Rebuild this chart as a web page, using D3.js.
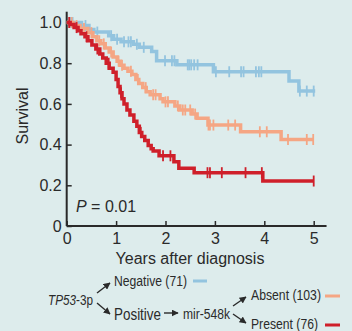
<!DOCTYPE html>
<html>
<head>
<meta charset="utf-8">
<script src="https://cdn.jsdelivr.net/npm/d3@7"></script>
<style>
  html, body { margin: 0; padding: 0; background: #ddecec; }
  svg { display: block; font-family: "Liberation Sans", Arial, sans-serif; }
</style>
</head>
<body>
<svg id="chart" width="352" height="331"></svg>
<script>
// Kaplan-Meier step data (years, survival)
const negTimes = [0, 0.30, 0.45, 0.55, 0.85, 0.95, 1.10, 1.35, 1.47, 1.72, 1.82, 2.23, 2.97, 4.50, 4.70, 5.03];
const negSurv  = [1.0, 0.985, 0.965, 0.953, 0.935, 0.918, 0.905, 0.893, 0.878, 0.857, 0.812, 0.792, 0.758, 0.712, 0.663, 0.663];
const negCens  = [0.08, 0.12, 0.38, 0.62, 0.9, 1.02, 1.16, 1.25, 1.3, 1.42, 1.56, 1.99, 2.13, 2.18, 2.45, 2.48, 2.52, 2.58, 2.65,
                  3.02, 3.29, 3.53, 3.58, 3.83, 3.89, 3.94, 4.72, 4.86, 5.0];

const absTimes = [0, 0.13, 0.27, 0.43, 0.53, 0.61, 0.69, 0.78, 0.86, 0.94, 1.02, 1.08, 1.16, 1.24, 1.32, 1.40, 1.46, 1.54, 1.61, 1.69,
                  1.89, 1.95, 2.19, 2.29, 2.54, 2.64, 2.86, 3.52, 4.34, 5.0];
const absSurv  = [1.0, 0.985, 0.97, 0.95, 0.93, 0.91, 0.895, 0.875, 0.855, 0.83, 0.81, 0.79, 0.775, 0.76, 0.745, 0.72, 0.70, 0.68, 0.66, 0.645,
                  0.625, 0.61, 0.59, 0.57, 0.55, 0.53, 0.496, 0.463, 0.425, 0.425];
const absCens  = [0.1, 0.2, 0.35, 0.5, 0.66, 0.75, 0.9, 1.05, 1.12, 1.3, 1.44, 1.6, 1.75, 1.8, 2.0, 2.05, 2.25, 2.35, 2.4, 2.5, 2.6,
                  2.87, 2.9, 2.97, 3.27, 3.41, 3.91, 4.05, 4.48, 4.86, 4.99];

const preTimes = [0, 0.07, 0.15, 0.23, 0.29, 0.37, 0.43, 0.51, 0.59, 0.67, 0.73, 0.80, 0.86, 0.94, 1.00, 1.04, 1.08, 1.12, 1.16, 1.22,
                  1.28, 1.36, 1.42, 1.47, 1.52, 1.58, 1.65, 1.71, 1.75, 1.87, 2.17, 2.27, 2.58, 3.97, 5.0];
const preSurv  = [1.0, 0.99, 0.975, 0.96, 0.945, 0.93, 0.91, 0.89, 0.87, 0.845, 0.825, 0.80, 0.775, 0.755, 0.72, 0.685, 0.655, 0.625, 0.60, 0.57,
                  0.545, 0.515, 0.49, 0.46, 0.44, 0.42, 0.395, 0.38, 0.369, 0.345, 0.316, 0.284, 0.262, 0.221, 0.221];
const preCens  = [0.05, 0.2, 0.4, 0.62, 0.85, 1.1, 1.5, 1.95, 2.1, 2.85, 2.9, 3.14, 3.62, 3.95, 5.0];

const xTicks = [0, 1, 2, 3, 4, 5];
const yTicks = [0, 0.2, 0.4, 0.6, 0.8, 1.0];
const yTickLabels = ["0", "0.2", "0.4", "0.6", "0.8", "1.0"];

const series = [
  { name: "Negative", times: negTimes, surv: negSurv, cens: negCens, color: "#93c4df" },
  { name: "Absent",   times: absTimes, surv: absSurv, cens: absCens, color: "#f5a684" },
  { name: "Present",  times: preTimes, surv: preSurv, cens: preCens, color: "#cf1f2a" }
];

const svg = d3.select("#chart");

const x = d3.scaleLinear().domain([0, 5]).range([66.7, 313.7]);
const y = d3.scaleLinear().domain([0, 1]).range([226, 22.5]);

const ink = "#2a2a2a";

// axes, ticks pointing inward
const xAxis = svg.append("g")
  .attr("transform", "translate(0," + y(0) + ")")
  .call(d3.axisBottom(x).tickValues(xTicks).tickFormat(d3.format("d"))
    .tickSize(-5).tickSizeOuter(0).tickPadding(7));

const yAxis = svg.append("g")
  .attr("transform", "translate(" + x(0) + ",0)")
  .call(d3.axisLeft(y).tickValues(yTicks).tickFormat((d, i) => yTickLabels[i])
    .tickSize(-5).tickSizeOuter(0).tickPadding(5));

// extend domain lines a bit past the last tick, like the figure
xAxis.select(".domain").attr("d", "M" + x(0) + ",0H" + x(5.26));
yAxis.select(".domain").attr("d", "M0," + y(0) + "V" + y(1.053));

[xAxis, yAxis].forEach(g => {
  g.select(".domain").attr("stroke", ink).attr("stroke-width", 2);
  g.selectAll(".tick line").attr("stroke", ink).attr("stroke-width", 1.5);
  g.selectAll(".tick text").attr("fill", ink).attr("font-size", 16)
    .attr("font-family", "Liberation Sans, Arial, sans-serif");
});

// curves
const stepLine = d3.line()
  .x(d => x(d[0]))
  .y(d => y(d[1]))
  .curve(d3.curveStepAfter);

function survAt(s, t) {
  let v = s.surv[0];
  for (let i = 0; i < s.times.length; i++) {
    if (s.times[i] <= t) v = s.surv[i];
  }
  return v;
}

series.forEach(s => {
  const pts = s.times.map((t, i) => [t, s.surv[i]]);
  svg.append("path")
    .datum(pts)
    .attr("fill", "none")
    .attr("stroke", s.color)
    .attr("stroke-width", 3.5)
    .attr("d", stepLine);

  svg.append("g").selectAll("line")
    .data(s.cens)
    .join("line")
    .attr("x1", d => x(d)).attr("x2", d => x(d))
    .attr("y1", d => y(survAt(s, d)) - 5.5)
    .attr("y2", d => y(survAt(s, d)) + 5.5)
    .attr("stroke", s.color)
    .attr("stroke-width", 1.8);
});

// axis titles
svg.append("text")
  .attr("transform", "translate(28,116) rotate(-90)")
  .attr("text-anchor", "middle")
  .attr("font-size", 16)
  .attr("fill", ink)
  .text("Survival");

svg.append("text")
  .attr("x", 190).attr("y", 264)
  .attr("text-anchor", "middle")
  .attr("font-size", 16)
  .attr("fill", ink)
  .text("Years after diagnosis");

const pText = svg.append("text")
  .attr("x", 76).attr("y", 212)
  .attr("font-size", 16)
  .attr("fill", ink);
pText.append("tspan").attr("font-style", "italic").text("P");
pText.append("tspan").text(" = 0.01");

// legend tree
svg.append("defs").append("marker")
  .attr("id", "arr")
  .attr("viewBox", "0 0 10 10")
  .attr("refX", 9).attr("refY", 5)
  .attr("markerWidth", 5).attr("markerHeight", 5)
  .attr("orient", "auto")
  .append("path")
  .attr("d", "M0,0L10,5L0,10z")
  .attr("fill", ink);

const legend = svg.append("g").attr("font-size", 14).attr("fill", ink);

// gene label, squeezed horizontally to the figure's narrow type
const tp = legend.append("text")
  .attr("transform", "translate(48,305) scale(0.84,1)");
tp.append("tspan").attr("font-style", "italic").text("TP53");
tp.append("tspan").text("-3p");

const arrows = [
  [97, 293, 110, 283],
  [97, 303, 110, 314],
  [164, 313, 178, 313],
  [233, 306, 246, 297],
  [233, 314, 246, 323]
];
legend.selectAll("line.arr")
  .data(arrows)
  .join("line")
  .attr("class", "arr")
  .attr("x1", d => d[0]).attr("y1", d => d[1])
  .attr("x2", d => d[2]).attr("y2", d => d[3])
  .attr("stroke", ink)
  .attr("stroke-width", 1.4)
  .attr("marker-end", "url(#arr)");

const labels = [
  { text: "Negative (71)", x: 114, y: 286, w: 73, size: 14 },
  { text: "Positive",      x: 114, y: 320, w: 47, size: 16 },
  { text: "mir-548k",      x: 183, y: 319, w: 47, size: 14 },
  { text: "Absent (103)",  x: 251, y: 300, w: 70, size: 14 },
  { text: "Present (76)",  x: 251, y: 329, w: 67, size: 14 }
];
legend.selectAll("text.lab")
  .data(labels)
  .join("text")
  .attr("class", "lab")
  .attr("x", d => d.x).attr("y", d => d.y)
  .attr("font-size", d => d.size)
  .attr("textLength", d => d.w)
  .attr("lengthAdjust", "spacingAndGlyphs")
  .text(d => d.text);

const swatches = [
  { x1: 193, x2: 207, y: 281, color: series[0].color },
  { x1: 325, x2: 340, y: 296, color: series[1].color },
  { x1: 325, x2: 340, y: 325, color: series[2].color }
];
legend.selectAll("line.sw")
  .data(swatches)
  .join("line")
  .attr("class", "sw")
  .attr("x1", d => d.x1).attr("x2", d => d.x2)
  .attr("y1", d => d.y).attr("y2", d => d.y)
  .attr("stroke", d => d.color)
  .attr("stroke-width", 3);
</script>
</body>
</html>
